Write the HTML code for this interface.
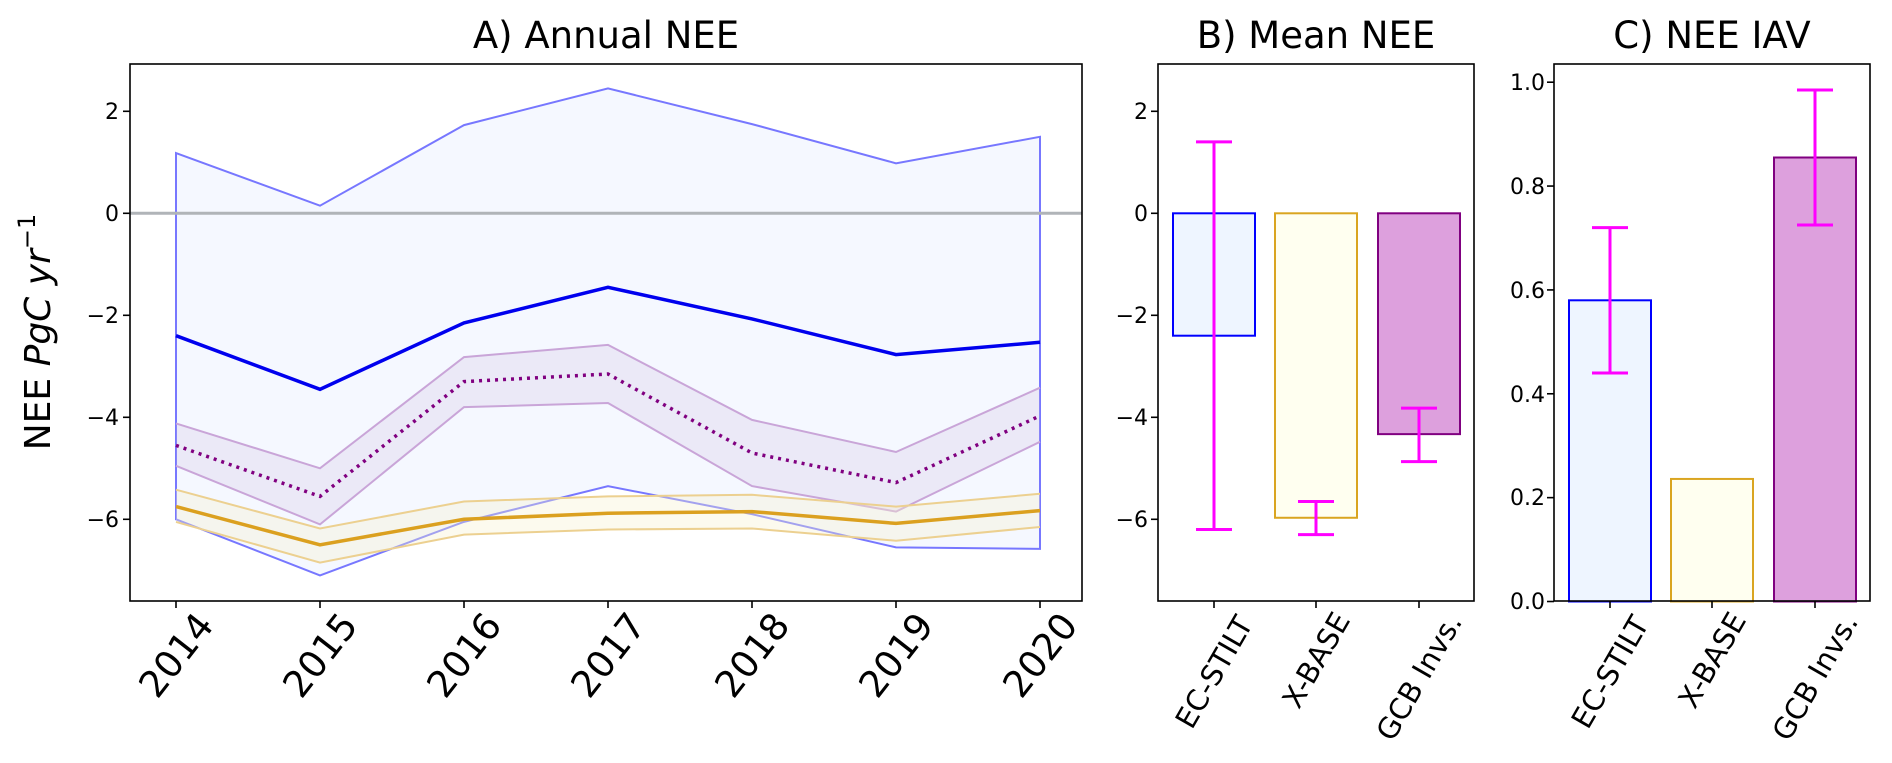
<!DOCTYPE html>
<html><head><meta charset="utf-8"><style>
body{margin:0;background:#fff}
svg{display:block;font-family:"DejaVu Sans","Liberation Sans",sans-serif}
</style></head><body>
<svg id="s" width="1892" height="763" viewBox="0 0 1892 763" xmlns="http://www.w3.org/2000/svg">
<g id="plot"></g>
<g font-size="37" text-anchor="middle" fill="#000">
<text x="606" y="48">A) Annual NEE</text>
<text x="1316" y="48">B) Mean NEE</text>
<text x="1712" y="48">C) NEE IAV</text>
</g>
<text transform="translate(50,332) rotate(-90)" font-size="36" text-anchor="middle">NEE <tspan font-style="italic">PgC yr</tspan><tspan font-size="24" dy="-15">−1</tspan></text>
<g font-size="22" text-anchor="end">
<text x="119" y="119">2</text><text x="119" y="221">0</text><text x="119" y="323">−2</text><text x="119" y="425">−4</text><text x="119" y="527">−6</text>
<text x="1148" y="119">2</text><text x="1148" y="221">0</text><text x="1148" y="323">−2</text><text x="1148" y="425">−4</text><text x="1148" y="527">−6</text>
<text x="1545" y="90">1.0</text><text x="1545" y="194">0.8</text><text x="1545" y="298">0.6</text><text x="1545" y="402">0.4</text><text x="1545" y="505">0.2</text><text x="1545" y="609">0.0</text>
</g>
<g font-size="37" text-anchor="middle">
<text transform="translate(176,655) rotate(-52)" dy="0.35em">2014</text>
<text transform="translate(320,655) rotate(-52)" dy="0.35em">2015</text>
<text transform="translate(464,655) rotate(-52)" dy="0.35em">2016</text>
<text transform="translate(608,655) rotate(-52)" dy="0.35em">2017</text>
<text transform="translate(752,655) rotate(-52)" dy="0.35em">2018</text>
<text transform="translate(896,655) rotate(-52)" dy="0.35em">2019</text>
<text transform="translate(1040,655) rotate(-52)" dy="0.35em">2020</text>
</g>
<g font-size="29" text-anchor="middle">
<text transform="translate(1214,672) rotate(-60)" dy="0.35em">EC-STILT</text>
<text transform="translate(1316,660) rotate(-60)" dy="0.35em">X-BASE</text>
<text transform="translate(1419,677) rotate(-60)" dy="0.35em">GCB Invs.</text>
<text transform="translate(1610,672) rotate(-60)" dy="0.35em">EC-STILT</text>
<text transform="translate(1712,660) rotate(-60)" dy="0.35em">X-BASE</text>
<text transform="translate(1815,677) rotate(-60)" dy="0.35em">GCB Invs.</text>
</g>
</svg>
<script>
const g=document.getElementById('plot');let h='';
const Y=v=>213.3-51*v, X=i=>176+144*i;
const pts=a=>a.map((v,i)=>X(i).toFixed(1)+','+Y(v).toFixed(1)).join(' ');
const band=(u,l,fill,stroke)=>{const p=pts(u)+' '+l.map((v,i)=>[X(i),Y(v)]).reverse().map(q=>q[0].toFixed(1)+','+q[1].toFixed(1)).join(' ');
h+=`<polygon points="${p}" fill="${fill}" stroke="none"/>`;
h+=`<polyline points="${pts(u)}" fill="none" stroke="${stroke}" stroke-width="2"/><polyline points="${pts(l)}" fill="none" stroke="${stroke}" stroke-width="2"/>`;};
const eu=[1.18,0.15,1.73,2.45,1.75,0.98,1.5],el=[-6.0,-7.1,-6.05,-5.35,-5.9,-6.55,-6.58],em=[-2.4,-3.45,-2.15,-1.45,-2.07,-2.77,-2.53];
const gu=[-4.12,-5.0,-2.82,-2.58,-4.05,-4.68,-3.42],gl=[-4.95,-6.1,-3.8,-3.72,-5.35,-5.85,-4.48],gm=[-4.55,-5.55,-3.3,-3.15,-4.7,-5.28,-3.97];
const xu=[-5.42,-6.18,-5.65,-5.55,-5.52,-5.75,-5.5],xl=[-6.05,-6.85,-6.3,-6.2,-6.18,-6.42,-6.15],xm=[-5.75,-6.5,-6.0,-5.88,-5.85,-6.08,-5.83];
h+=`<polygon points="${pts(eu)} ${el.map((v,i)=>X(i)+','+Y(v)).reverse().join(' ')}" fill="#f5f8ff" stroke="#7777ff" stroke-width="2"/>`;
h+=`<line x1="130" x2="1082" y1="${Y(0)}" y2="${Y(0)}" stroke="#b0b4b8" stroke-width="3"/>`;
band(gu,gl,'rgba(200,180,220,0.22)','#c9a5d8');
band(xu,xl,'rgba(245,240,205,0.35)','#ecd090');
h+=`<polyline points="${pts(em)}" fill="none" stroke="#0000ee" stroke-width="3.5"/>`;
h+=`<polyline points="${pts(gm)}" fill="none" stroke="#800080" stroke-width="3.5" stroke-dasharray="3,5"/>`;
h+=`<polyline points="${pts(xm)}" fill="none" stroke="#dba01f" stroke-width="3.5"/>`;
const bar=(cx,y0,y1,fill,st)=>{h+=`<rect x="${cx-41}" y="${Math.min(y0,y1)}" width="82" height="${Math.abs(y1-y0)}" fill="${fill}" stroke="${st}" stroke-width="2"/>`;};
const err=(cx,a,b)=>{h+=`<g stroke="#ff00ff" stroke-width="3"><line x1="${cx}" x2="${cx}" y1="${a}" y2="${b}"/><line x1="${cx-18}" x2="${cx+18}" y1="${a}" y2="${a}"/><line x1="${cx-18}" x2="${cx+18}" y1="${b}" y2="${b}"/></g>`;};
bar(1214,Y(0),Y(-2.4),'#eef5ff','#0000ff');bar(1316,Y(0),Y(-5.97),'#fffff0','#daa520');bar(1419,Y(0),Y(-4.33),'#dda0dd','#800080');
err(1214,Y(1.4),Y(-6.2));err(1316,Y(-5.65),Y(-6.3));err(1419,Y(-3.82),Y(-4.87));
const C=v=>601.5-519.3*v;
bar(1610,C(0),C(0.58),'#eef5ff','#0000ff');bar(1712,C(0),C(0.236),'#fffff0','#daa520');bar(1815,C(0),C(0.855),'#dda0dd','#800080');
err(1610,C(0.72),C(0.44));err(1815,C(0.985),C(0.725));
h+=`<g fill="none" stroke="#000" stroke-width="1.6"><rect x="130" y="64" width="952" height="537"/><rect x="1158" y="64" width="316" height="537"/><rect x="1554" y="64" width="316" height="537"/>`;
for(let v=-6;v<=2;v+=2){h+=`<line x1="123" x2="130" y1="${Y(v)}" y2="${Y(v)}"/><line x1="1151" x2="1158" y1="${Y(v)}" y2="${Y(v)}"/>`;}
for(let v=0;v<=1.001;v+=0.2){h+=`<line x1="1547" x2="1554" y1="${C(v)}" y2="${C(v)}"/>`;}
for(let i=0;i<7;i++)h+=`<line x1="${X(i)}" x2="${X(i)}" y1="601" y2="608"/>`;
[1214,1316,1419,1610,1712,1815].forEach(x=>h+=`<line x1="${x}" x2="${x}" y1="601" y2="608"/>`);
h+='</g>';
g.innerHTML=h;
</script>
</body></html>
